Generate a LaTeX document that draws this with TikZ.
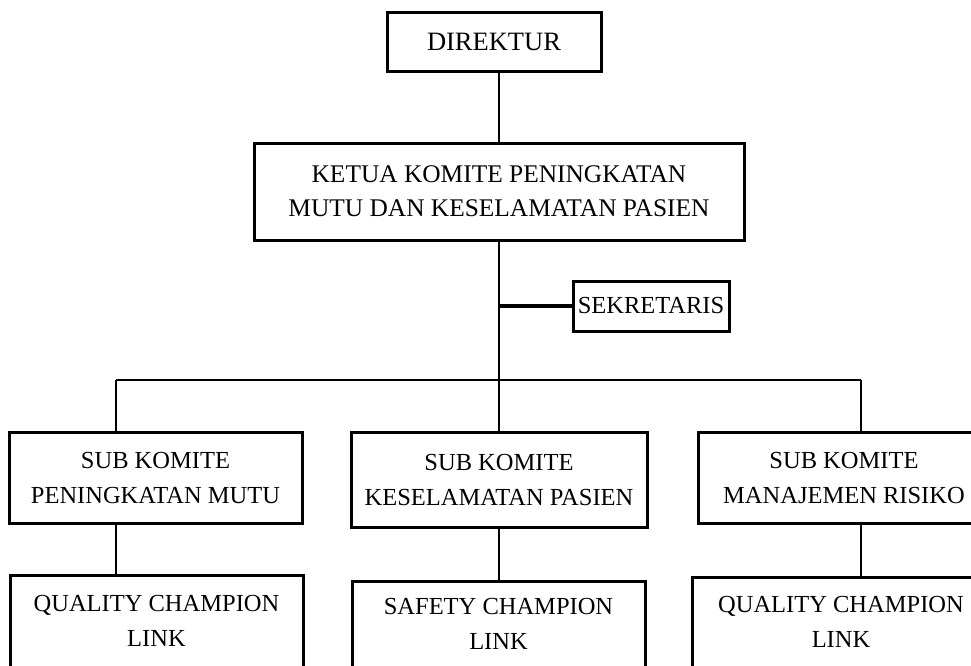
\documentclass[tikz,border=0pt]{standalone}
\usepackage{fontspec}
\setmainfont{Liberation Serif}
\begin{document}
\begin{tikzpicture}[x=1pt,y=-1pt,
  box/.style={draw, line width=3pt, inner sep=0pt, align=center,
    font=\fontsize{24.5}{35}\selectfont},
  conn/.style={line width=2.8pt}]
\useasboundingbox (0,0) rectangle (971,665);
\clip (0,0) rectangle (971,665);
\node[box, minimum width=214pt, minimum height=59pt, font=\fontsize{26.5}{35}\selectfont] (dir) at (494,41.5) {DIREKTUR};
\node[box, minimum width=490pt, minimum height=97pt, font=\fontsize{25.4}{34}\selectfont] (ketua) at (499,191.5)
  {KETUA KOMITE PENINGKATAN\\MUTU DAN KESELAMATAN PASIEN};
\node[box, minimum width=156pt, minimum height=50pt] (sek) at (651,306) {SEKRETARIS};
\node[box, minimum width=293pt, minimum height=91pt] (sub1) at (155.5,477.5)
  {SUB KOMITE\\PENINGKATAN MUTU};
\node[box, minimum width=296pt, minimum height=95pt] (sub2) at (499,479.5)
  {SUB KOMITE\\KESELAMATAN PASIEN};
\node[box, minimum width=292pt, minimum height=91pt] (sub3) at (844,477.5)
  {SUB KOMITE\\MANAJEMEN RISIKO};
\node[box, minimum width=293pt, minimum height=92pt] (bot1) at (156.5,621)
  {QUALITY CHAMPION\\LINK};
\node[box, minimum width=293pt, minimum height=86pt] (bot2) at (498.5,624)
  {SAFETY CHAMPION\\LINK};
\node[box, minimum width=298pt, minimum height=90pt] (bot3) at (841,622)
  {QUALITY CHAMPION\\LINK};
\coordinate (barM) at (499,380);
\coordinate (barL) at (116,380);
\coordinate (barR) at (861,380);
\draw[conn] (ketua.north) -- (ketua.north |- dir.south);
\draw[conn] (ketua.south) -- (barM);
\draw[line width=3.8pt] (ketua.south |- sek.west) -- (sek.west);
\draw[conn] (barL) -- (barR);
\draw[conn] (barL) -- (barL |- sub1.north);
\draw[conn] (barM) -- (sub2.north);
\draw[conn] (barR) -- (barR |- sub3.north);
\draw[conn] (barL |- sub1.south) -- (barL |- bot1.north);
\draw[conn] (sub2.south) -- (sub2.south |- bot2.north);
\draw[conn] (barR |- sub3.south) -- (barR |- bot3.north);
\end{tikzpicture}
\end{document}
